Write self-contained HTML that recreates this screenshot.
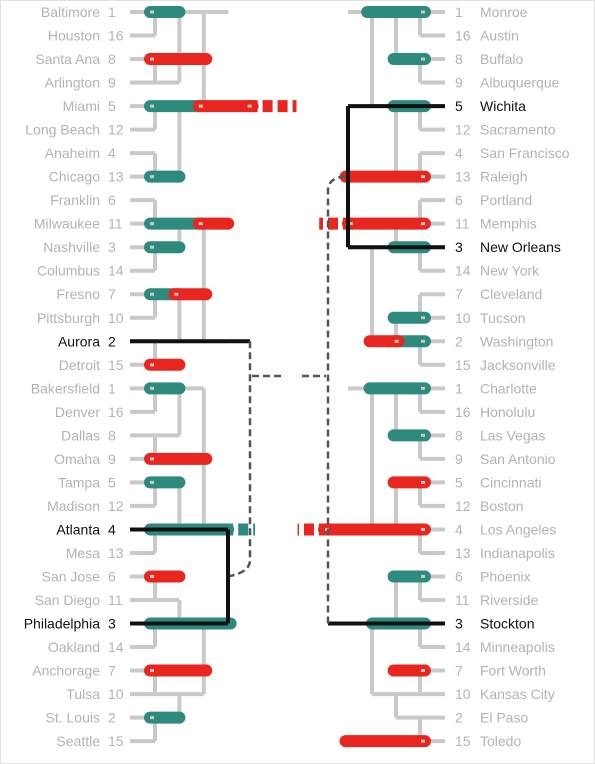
<!DOCTYPE html>
<html><head><meta charset="utf-8">
<style>
html,body{margin:0;padding:0;background:#fff;}
svg{display:block;}
text{font-family:"Liberation Sans",sans-serif;font-size:14px;}
</style></head>
<body>
<svg id="chart" width="595" height="764" viewBox="0 0 595 764" xmlns="http://www.w3.org/2000/svg">
<rect x="0.5" y="0.5" width="594" height="763" fill="#fff" stroke="#e2e2e2"/>
<g id="gray"></g><g id="bars"></g><g id="black"></g><g id="labels"></g>
</svg>
<script>
const leftNames=["Baltimore","Houston","Santa Ana","Arlington","Miami","Long Beach","Anaheim","Chicago","Franklin","Milwaukee","Nashville","Columbus","Fresno","Pittsburgh","Aurora","Detroit","Bakersfield","Denver","Dallas","Omaha","Tampa","Madison","Atlanta","Mesa","San Jose","San Diego","Philadelphia","Oakland","Anchorage","Tulsa","St. Louis","Seattle"];
const rightNames=["Monroe","Austin","Buffalo","Albuquerque","Wichita","Sacramento","San Francisco","Raleigh","Portland","Memphis","New Orleans","New York","Cleveland","Tucson","Washington","Jacksonville","Charlotte","Honolulu","Las Vegas","San Antonio","Cincinnati","Boston","Los Angeles","Indianapolis","Phoenix","Riverside","Stockton","Minneapolis","Fort Worth","Kansas City","El Paso","Toledo"];
const seeds=[1,16,8,9,5,12,4,13,6,11,3,14,7,10,2,15,1,16,8,9,5,12,4,13,6,11,3,14,7,10,2,15];
const leftHighlight=[14,22,26];
const rightHighlight=[4,10,26];
const leftRounds=[[0,3,4,7,9,10,12,14,16,18,20,22,25,26,29,30],[0,4,9,14,16,22,26,29],[0,14,22,26]];
const rightRounds=[[0,2,4,7,9,10,13,14,16,18,20,22,24,26,29,30],[0,4,10,14,16,22,26,29],[0,10,16,26]];
// bars: [row, fromRound, toRound, color, dashed]
const leftBars=[[0,1,2,"t",0],[2,1,3.1,"r",0],[4,1,3,"t",0],[4,3,5,"r",0],[4,5,6.8,"r",1],[7,1,2,"t",0],[9,1,3,"t",0],[9,3,4,"r",0],[10,1,2,"t",0],[12,1,2,"t",0],[12,2,3.1,"r",0],[15,1,2,"r",0],[16,1,2,"t",0],[19,1,3.1,"r",0],[20,1,2,"t",0],[22,1,4,"t",0],[22,4,5.1,"t",1],[24,1,2,"r",0],[26,1,4.1,"t",0],[28,1,3.1,"r",0],[30,1,2,"t",0]];
const rightBars=[[0,1,3.2,"t",0],[2,1,2.1,"t",0],[4,1,2.1,"t",0],[7,1,4.1,"r",0],[9,1,4,"r",0],[9,4,5.2,"r",1],[10,1,2.1,"t",0],[13,1,2.1,"t",0],[14,1,2.1,"t",0],[14,2.1,3.1,"r",0],[16,1,3.1,"t",0],[18,1,2.1,"t",0],[20,1,2.1,"r",0],[22,1,5,"r",0],[22,5,6.1,"r",1],[24,1,2.1,"t",0],[26,1,3,"t",0],[28,1,2.1,"r",0],[31,1,4.1,"r",0]];

const NS="http://www.w3.org/2000/svg";
function rowY(i){return 12+i*23.52;}
function colX(side,r){return side==="L"?155+(r-1)*24.4:420-(r-1)*24;}
const G=id=>document.getElementById(id);
function line(g,x1,y1,x2,y2,c,w,name,dash){
  const l=document.createElementNS(NS,"line");
  l.setAttribute("x1",x1);l.setAttribute("y1",y1);l.setAttribute("x2",x2);l.setAttribute("y2",y2);
  l.setAttribute("stroke",c);l.setAttribute("stroke-width",w);
  if(dash)l.setAttribute("stroke-dasharray",dash);
  
  
  g.appendChild(l);return l;
}
function drawSide(side,names,rounds,bars,hl){
  const gray=G("gray"),gb=G("bars"),gl=G("labels");
  const stub=side==="L"?130:445;
  const reach=names.map(()=>1);
  rounds.forEach((w,k)=>w.forEach(i=>reach[i]=k+2));
  names.forEach((n,i)=>{
    const r=Math.min(reach[i],4);
    line(gray,stub,rowY(i),colX(side,r),rowY(i),"#c9c9c9",4,"connector-"+n.toLowerCase().replace(/[^a-z]/g,"-"));
  });
  let prev=names.map((_,i)=>i);
  for(let k=0;k<3;k++){
    for(let p=0;p<prev.length;p+=2){
      line(gray,colX(side,k+1),rowY(prev[p]),colX(side,k+1),rowY(prev[p+1]),"#c9c9c9",4,"bracket-join");
    }
    prev=rounds[k];
  }
  bars.forEach(b=>{
    const x1=colX(side,b[1])+(side==="L"?-5:5), x2=colX(side,b[2]);
    const col=b[3]==="t"?"#2f8a7e":"#e8261f";
    const l=line(gb,x1,rowY(b[0]),x2,rowY(b[0]),col,12,"pick-bar-"+names[b[0]].toLowerCase().replace(/[^a-z]/g,"-"),b[4]?"10 5":null);
    l.setAttribute("stroke-linecap",b[4]?"butt":"round");
    const inner=side==="L"?x1+4:x1-4;
    line(gb,x1,rowY(b[0]),inner,rowY(b[0]),"#c9c9c9",3,"pick-bar-core");
  });
  names.forEach((n,i)=>{
    const c=hl.includes(i)?"#111":"#b3b3b3";
    const t1=document.createElementNS(NS,"text"),t2=document.createElementNS(NS,"text");
    if(side==="L"){
      t1.setAttribute("x",100);t1.setAttribute("text-anchor","end");
      t2.setAttribute("x",108);
    }else{
      t2.setAttribute("x",455);t1.setAttribute("x",480);
    }
    [t1,t2].forEach(t=>{t.setAttribute("y",rowY(i)+5);t.setAttribute("fill",c);});
    t1.textContent=n;t2.textContent=seeds[i];
    
    
    
    
    gl.appendChild(t1);gl.appendChild(t2);
  });
}
drawSide("L",leftNames,leftRounds,leftBars,leftHighlight);
drawSide("R",rightNames,rightRounds,rightBars,rightHighlight);
const gk=G("black");
line(gk,130,rowY(14),250,rowY(14),"#111",4,"final-path-aurora");
line(gk,130,rowY(22),228,rowY(22),"#111",4,"final-path-atlanta");
line(gk,130,rowY(26),228,rowY(26),"#111",4,"final-path-philadelphia");
line(gk,228,rowY(22),228,rowY(26),"#111",4,"semifinal-join-left");
line(gk,445,rowY(4),348,rowY(4),"#111",4,"final-path-wichita");
line(gk,445,rowY(10),348,rowY(10),"#111",4,"final-path-new-orleans");
line(gk,348,rowY(4),348,rowY(10),"#111",4,"semifinal-join-right");
line(gk,445,rowY(26),328,rowY(26),"#111",4,"final-path-stockton");
function dpath(d,name){const p=document.createElementNS(NS,"path");p.setAttribute("d",d);p.setAttribute("fill","none");p.setAttribute("stroke","#555");p.setAttribute("stroke-width",2.5);p.setAttribute("stroke-dasharray","7 4");


gk.appendChild(p);}
dpath("M250 "+rowY(14)+" L250 560 Q250 572 230 576","dashed-link-left");
dpath("M328 "+rowY(26)+" L328 190 Q328 178 346 176","dashed-link-right");
line(gk,252,376,282,376,"#555",2.5,"championship-link-left","7 4");
line(gk,302,376,326,376,"#555",2.5,"championship-link-right","7 4");
</script>
</body></html>
